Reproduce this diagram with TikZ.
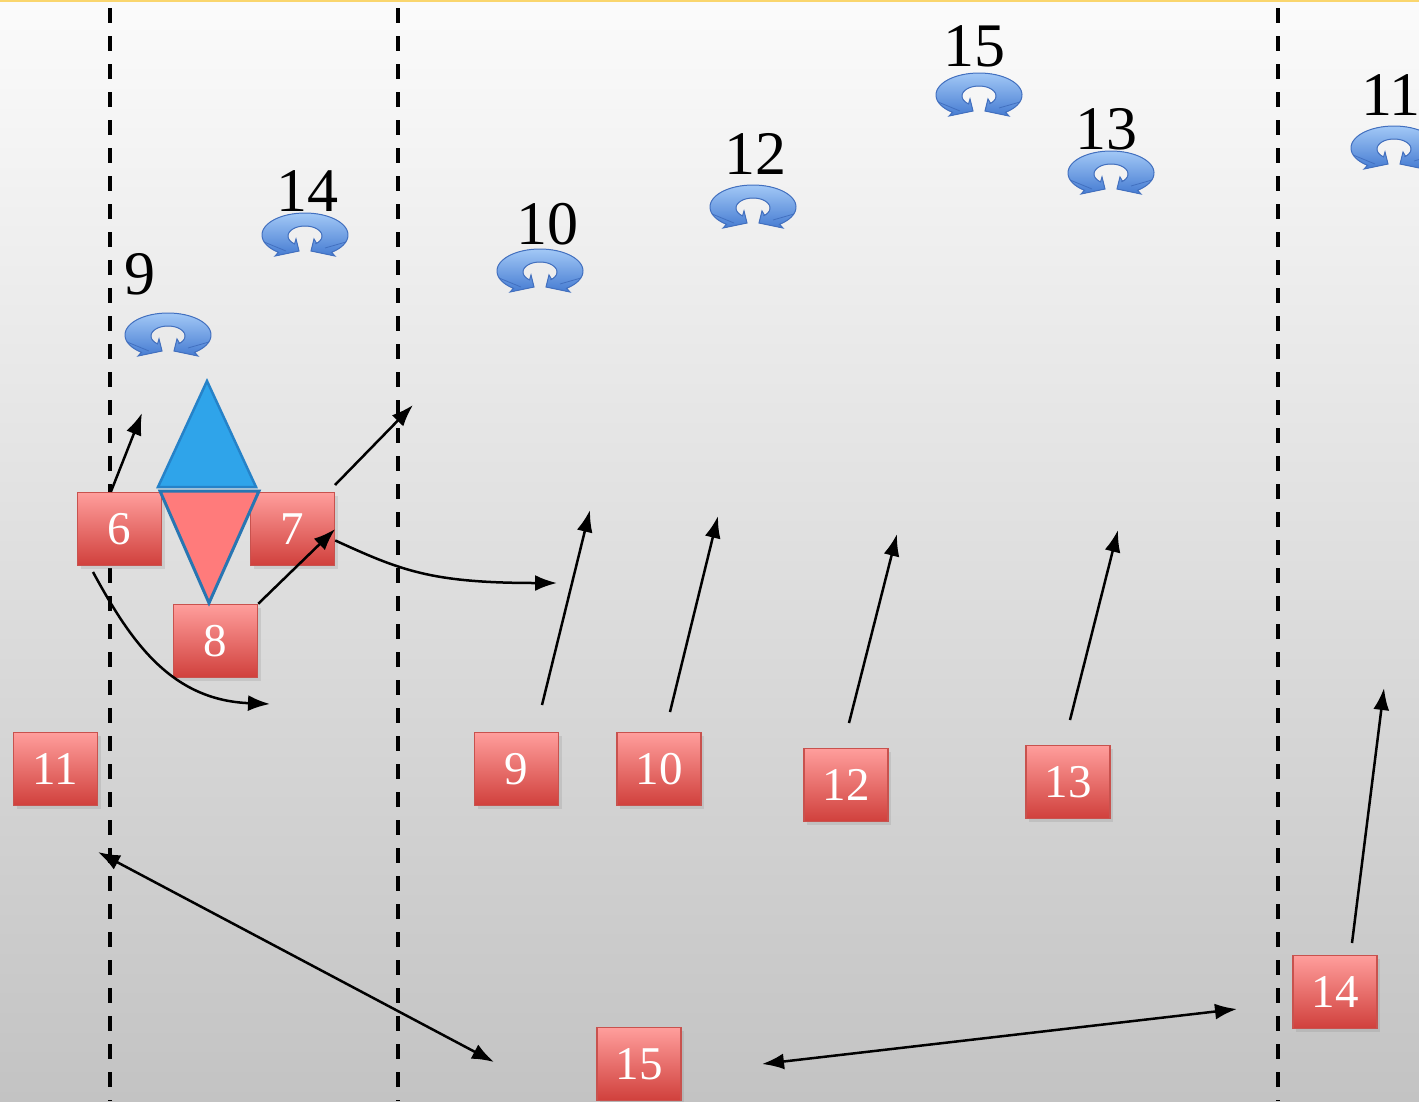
\documentclass[tikz,border=0pt]{standalone}
\usepackage{fontspec}
\setmainfont{Liberation Serif}
\usetikzlibrary{arrows.meta,shadows}
\definecolor{bgtop}{RGB}{251,251,251}
\definecolor{bgbot}{RGB}{195,195,195}
\definecolor{boxtop}{RGB}{255,158,156}
\definecolor{boxbot}{RGB}{208,64,60}
\definecolor{boxline}{RGB}{200,82,78}
\definecolor{triblue}{RGB}{47,164,234}
\definecolor{tribluel}{RGB}{38,130,200}
\definecolor{trired}{RGB}{255,123,123}
\definecolor{triline}{RGB}{40,118,178}
\definecolor{ringtop}{RGB}{162,200,246}
\definecolor{ringbot}{RGB}{70,124,210}
\definecolor{ringline}{RGB}{66,112,192}
\definecolor{topline}{RGB}{250,214,110}
\begin{document}
\begin{tikzpicture}[x=1pt,y=-1pt,
  player/.style={rectangle, draw=boxline, line width=1.5pt, top color=boxtop, bottom color=boxbot,
    minimum width=84pt, minimum height=73pt, inner sep=0pt, text=white,
    font=\fontsize{47}{50}\selectfont,
    drop shadow={opacity=0.2, shadow xshift=3pt, shadow yshift=-3pt}},
  lbl/.style={inner sep=0pt, text=black, font=\fontsize{62}{64}\selectfont},
  move/.style={line width=2.5pt, -{Latex[length=22pt,width=16pt]}},
  twoway/.style={line width=2.5pt, {Latex[length=22pt,width=16pt]}-{Latex[length=22pt,width=16pt]}},
  lane/.style={line width=3.5pt, dash pattern=on 15pt off 13pt},
  swirl/.pic={
    \filldraw[top color=ringtop, bottom color=ringbot, draw=ringline, line width=1pt]
      plot[domain=128:412,samples=60] ({43*cos(\x)},{22*sin(\x)})
      -- (30,21) -- (6,16) -- (9,4) -- (11.5,8.2)
      -- plot[domain=412:128,samples=50] ({17*cos(\x)},{1+10*sin(\x)})
      -- (-9,4) -- (-6,16) -- (-30,21) -- cycle;
    \draw[ringline, line width=0.8pt] (-41,7) -- (-19,16);
    \draw[ringline, line width=0.8pt] (41,7) -- (20,13);
  }
]
\useasboundingbox (0,0) rectangle (1419,1101);
\clip (0,0) rectangle (1419,1101);
\fill[top color=bgtop, bottom color=bgbot] (0,0) rectangle (1419,1101);
\draw[topline, line width=2.5pt] (0,1) -- (1419,1);

% lanes
\draw[lane] (110,8) -- (110,1101);
\draw[lane] (398,8) -- (398,1101);
\draw[lane] (1278,8) -- (1278,1101);

% swirl icons and their labels
\pic (s9) at (168,335) {swirl};
\pic (s14) at (305,235) {swirl};
\pic (s10) at (540,271) {swirl};
\pic (s12) at (753,207) {swirl};
\pic (s15) at (979,95) {swirl};
\pic (s13) at (1111,173) {swirl};
\pic (s11) at (1394,148) {swirl};
\node[lbl] (l9) at (140,274) {9};
\node[lbl] (l14) at (307,191) {14};
\node[lbl] (l10) at (547,224) {10};
\node[lbl] (l12) at (755,154) {12};
\node[lbl] (l15) at (974,46) {15};
\node[lbl] (l13) at (1106,129) {13};
\node[lbl] (l11) at (1391,95) {11};

% players
\node[player] (n6) at (119.5,529) {6};
\node[player] (n7) at (292.5,529) {7};
\node[player] (n8) at (215.5,641) {8};
\node[player] (n11) at (55.5,769) {11};
\node[player] (n9) at (516.5,769) {9};
\node[player] (n10) at (659,769) {10};
\node[player] (n12) at (846,785) {12};
\node[player] (n13) at (1068,782) {13};
\node[player] (n14) at (1335,992) {14};
\node[player] (n15) at (639,1064) {15};

% triangles
\filldraw[fill=triblue, draw=tribluel, line width=2.5pt, line join=miter] (207,381) -- (256,487) -- (158,487) -- cycle;
\filldraw[fill=trired, draw=triline, line width=3pt, line join=miter] (160,491) -- (259,491) -- (209,603) -- cycle;

% free ends
\coordinate (e6) at (142,413);
\coordinate (s7) at (335,485);
\coordinate (e7) at (413,405);
\coordinate (c7) at (557,583);
\coordinate (s6c) at (93,572);
\coordinate (c6) at (270,704);
\coordinate (s9a) at (542,705);
\coordinate (e9) at (590,510);
\coordinate (s10a) at (670,712);
\coordinate (e10) at (718,516);
\coordinate (s12a) at (849,723);
\coordinate (e12) at (897,534);
\coordinate (s13a) at (1070,720);
\coordinate (e13) at (1118,530);
\coordinate (s14a) at (1352,943);
\coordinate (e14) at (1384,688);
\coordinate (p1) at (98,852);
\coordinate (p2) at (494,1062);
\coordinate (q1) at (762,1064);
\coordinate (q2) at (1237,1009);

% movements
\draw[move] (n6.103) -- (e6);
\draw[move] (s7) -- (e7);
\draw[move] (n8.north east) -- (n7.east);
\draw[move] (n7.-15) .. controls (400,570) and (430,583) .. (c7);
\draw[move] (s6c) .. controls (130,640) and (170,700) .. (c6);
\draw[move] (s9a) -- (e9);
\draw[move] (s10a) -- (e10);
\draw[move] (s12a) -- (e12);
\draw[move] (s13a) -- (e13);
\draw[move] (s14a) -- (e14);
\draw[twoway] (p1) -- (p2);
\draw[twoway] (q1) -- (q2);
\end{tikzpicture}
\end{document}
